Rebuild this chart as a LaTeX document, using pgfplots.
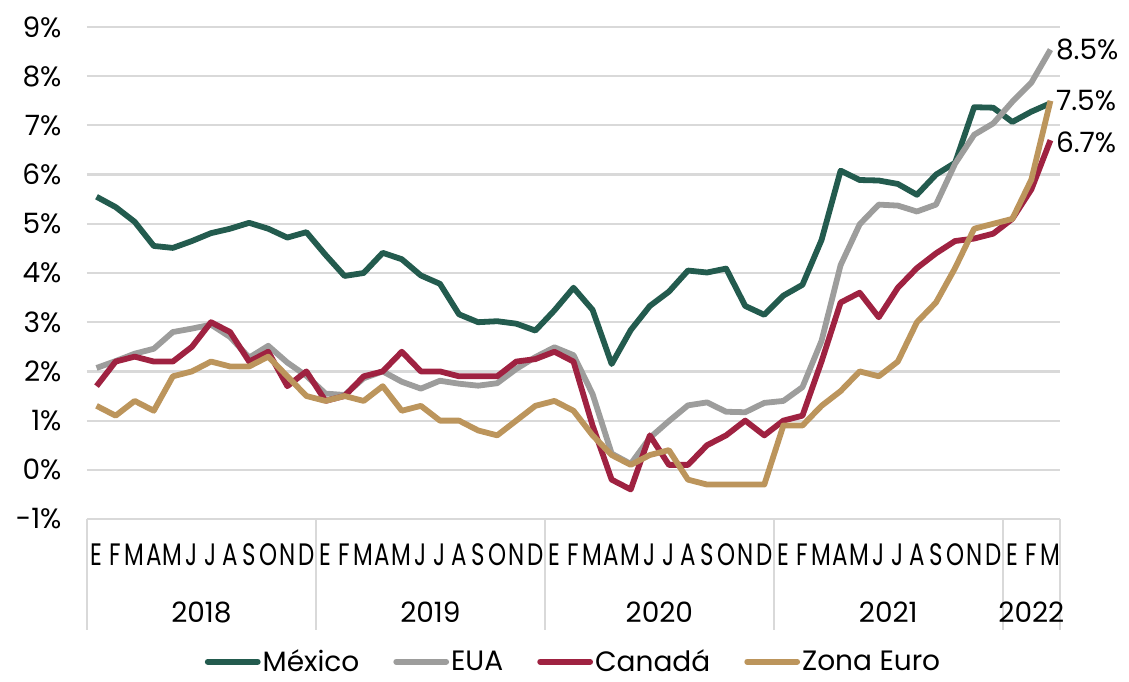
\documentclass[border=0pt]{standalone}
\usepackage{pgfplots}
\pgfplotsset{compat=1.18}
\usepackage{fontspec}
\setmainfont{Poppins}
\definecolor{mex}{HTML}{235B4E}
\definecolor{eua}{HTML}{9D9D9C}
\definecolor{can}{HTML}{9F2241}
\definecolor{eur}{HTML}{BC955C}
\definecolor{grd}{HTML}{D9D9D9}
\newcommand{\m}[1]{\scalebox{0.74}[1]{#1}}
\newcommand{\fs}{\fontsize{28}{30}\selectfont}
\pgfplotstableread{
x mex eua can eur
0.5 5.55 2.07 1.7 1.3
1.5 5.34 2.21 2.2 1.1
2.5 5.04 2.36 2.3 1.4
3.5 4.55 2.46 2.2 1.2
4.5 4.51 2.80 2.2 1.9
5.5 4.65 2.87 2.5 2.0
6.5 4.81 2.95 3.0 2.2
7.5 4.90 2.70 2.8 2.1
8.5 5.02 2.28 2.2 2.1
9.5 4.90 2.52 2.4 2.3
10.5 4.72 2.18 1.7 1.9
11.5 4.83 1.91 2.0 1.5
12.5 4.37 1.55 1.4 1.4
13.5 3.94 1.52 1.5 1.5
14.5 4.00 1.86 1.9 1.4
15.5 4.41 2.00 2.0 1.7
16.5 4.28 1.79 2.4 1.2
17.5 3.95 1.65 2.0 1.3
18.5 3.78 1.81 2.0 1.0
19.5 3.16 1.75 1.9 1.0
20.5 3.00 1.71 1.9 0.8
21.5 3.02 1.76 1.9 0.7
22.5 2.97 2.05 2.2 1.0
23.5 2.83 2.29 2.25 1.3
24.5 3.24 2.49 2.4 1.4
25.5 3.70 2.33 2.2 1.2
26.5 3.25 1.54 0.9 0.7
27.5 2.15 0.33 -0.2 0.3
28.5 2.84 0.12 -0.4 0.1
29.5 3.33 0.65 0.7 0.3
30.5 3.62 0.99 0.1 0.4
31.5 4.05 1.31 0.1 -0.2
32.5 4.01 1.37 0.5 -0.3
33.5 4.09 1.18 0.7 -0.3
34.5 3.33 1.17 1.0 -0.3
35.5 3.15 1.36 0.7 -0.3
36.5 3.54 1.40 1.0 0.9
37.5 3.76 1.68 1.1 0.9
38.5 4.67 2.62 2.2 1.3
39.5 6.08 4.16 3.4 1.6
40.5 5.89 4.99 3.6 2.0
41.5 5.88 5.39 3.1 1.9
42.5 5.81 5.37 3.7 2.2
43.5 5.59 5.25 4.1 3.0
44.5 6.00 5.39 4.4 3.4
45.5 6.24 6.22 4.65 4.1
46.5 7.37 6.81 4.7 4.9
47.5 7.36 7.04 4.8 5.0
48.5 7.07 7.48 5.1 5.1
49.5 7.28 7.87 5.7 5.9
50.5 7.45 8.54 6.7 7.5
}\datatable
\begin{document}
\begin{tikzpicture}
\begin{axis}[
  scale only axis, width=973pt, height=492pt,
  xmin=0, xmax=51, ymin=-1, ymax=9,
  axis line style={draw=none},
  major tick length=0pt,
  ytick={-1,0,...,9},
  /pgf/number format/assume math mode=true,
  yticklabel={\pgfmathprintnumber{\tick}\%},
  yticklabel style={font=\fs, xshift=-22pt},
  ymajorgrids, grid style={grd, line width=2.2pt},
  xtick={0.5,1.5,...,50.5},
  xticklabels={\m{E},\m{F},\m{M},\m{A},\m{M},\m{J},\m{J},\m{A},\m{S},\m{O},\m{N},\m{D},
               \m{E},\m{F},\m{M},\m{A},\m{M},\m{J},\m{J},\m{A},\m{S},\m{O},\m{N},\m{D},
               \m{E},\m{F},\m{M},\m{A},\m{M},\m{J},\m{J},\m{A},\m{S},\m{O},\m{N},\m{D},
               \m{E},\m{F},\m{M},\m{A},\m{M},\m{J},\m{J},\m{A},\m{S},\m{O},\m{N},\m{D},
               \m{E},\m{F},\m{M}},
  xticklabel style={font=\fontsize{31}{33}\selectfont, anchor=center, yshift=-36pt, inner sep=0pt},
  clip=false,
  legend style={at={(0.5,-0.29)}, anchor=center, draw=none, fill=none,
    legend columns=4, font=\fs, inner sep=0pt,
    /tikz/every even column/.append style={column sep=32pt}},
  legend image code/.code={\draw[#1, line cap=round] (0pt,0pt) -- (50pt,0pt);},
]
\addplot[mex, line width=5.8pt, line join=round] table[x=x, y=mex] {\datatable};
\addlegendentry{México}
\addplot[eua, line width=5.8pt, line join=round] table[x=x, y=eua] {\datatable};
\addlegendentry{EUA}
\addplot[can, line width=5.8pt, line join=round] table[x=x, y=can] {\datatable};
\addlegendentry{Canadá}
\addplot[eur, line width=5.8pt, line join=round] table[x=x, y=eur] {\datatable};
\addlegendentry{Zona Euro}
\foreach \xx in {0,12,24,36,48,51} {
  \edef\tmp{\noexpand\draw[grd, line width=1.6pt] (axis cs:\xx,-1) -- ++(0pt,-111pt);}\tmp
}
\foreach \xx/\yy in {6/2018,18/2019,30/2020,42/2021,49.5/2022} {
  \edef\tmp{\noexpand\node[font=\noexpand\fs] at (axis cs:\xx,-1) [yshift=-93pt] {\yy};}\tmp
}
\node[anchor=west, font=\fs, xshift=2pt] at (axis cs:50.5,8.54) {8.5\%};
\node[anchor=west, font=\fs, xshift=2pt] at (axis cs:50.5,7.5) {7.5\%};
\node[anchor=west, font=\fs, xshift=2pt] at (axis cs:50.5,6.65) {6.7\%};
\end{axis}
\pgfresetboundingbox
\path (-87pt,-162pt) rectangle (1042pt,519pt);
\end{tikzpicture}
\end{document}
